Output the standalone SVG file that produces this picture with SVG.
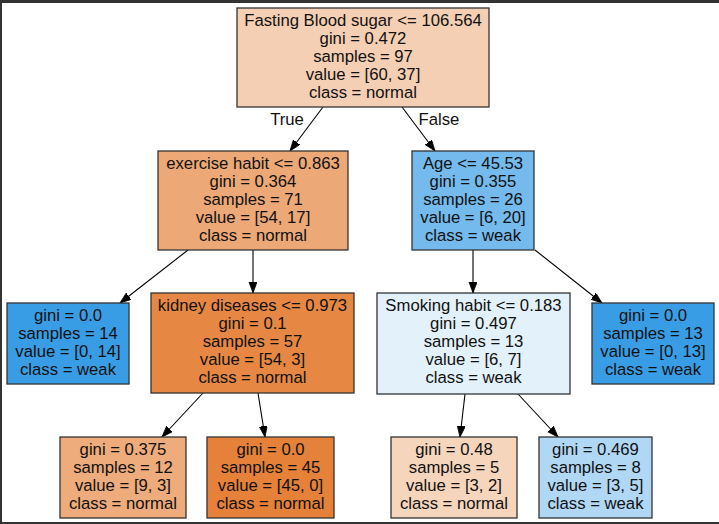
<svg xmlns="http://www.w3.org/2000/svg" width="719" height="524" viewBox="0 0 719 524">
<defs>
<marker id="arr" markerUnits="userSpaceOnUse" markerWidth="12" markerHeight="9" refX="11" refY="4" orient="auto">
<path d="M0,0 L11,4 L0,8 z" fill="#000" stroke="#000" stroke-width="0.8"/>
</marker>
</defs>
<style>
.n rect{stroke:#333;stroke-width:1.3}
text{font-family:"Liberation Sans",Arial,sans-serif;font-size:16.7px;fill:#111;text-anchor:middle}
.e line{stroke:#000;stroke-width:1.1;marker-end:url(#arr)}
</style>
<rect x="0" y="0" width="719" height="524" fill="#fff"/>
<rect x="0" y="0" width="719" height="3" fill="#333"/>
<rect x="0" y="0" width="2" height="524" fill="#333"/>
<rect x="0" y="522" width="719" height="2" fill="#333"/>
<g id="edges" class="e">
<line x1="323" y1="107" x2="290" y2="151"/>
<line x1="402" y1="107" x2="435" y2="151"/>
<line x1="188" y1="250" x2="120" y2="303"/>
<line x1="253" y1="250" x2="253" y2="293"/>
<line x1="473" y1="250" x2="473" y2="293"/>
<line x1="535" y1="250" x2="602" y2="303"/>
<line x1="203" y1="393" x2="162" y2="437"/>
<line x1="258" y1="393" x2="265" y2="437"/>
<line x1="465" y1="394" x2="460" y2="437"/>
<line x1="518" y1="394" x2="558" y2="437"/>
<text x="287" y="125">True</text>
<text x="439" y="125">False</text>
</g>
<g id="n0" class="n"><rect x="237" y="8" width="252" height="99" fill="#f5cfb3"/>
<text x="363" y="26">Fasting Blood sugar &lt;= 106.564</text><text x="363" y="44">gini = 0.472</text><text x="363" y="62">samples = 97</text><text x="363" y="80">value = [60, 37]</text><text x="363" y="98">class = normal</text></g>
<g id="n1" class="n"><rect x="158" y="151" width="190" height="99" fill="#eda877"/>
<text x="253" y="168.5">exercise habit &lt;= 0.863</text><text x="253" y="186.5">gini = 0.364</text><text x="253" y="204.5">samples = 71</text><text x="253" y="222.5">value = [54, 17]</text><text x="253" y="240.5">class = normal</text></g>
<g id="n2" class="n"><rect x="7" y="303" width="122" height="81" fill="#399de5"/>
<text x="68" y="320.5">gini = 0.0</text><text x="68" y="338.5">samples = 14</text><text x="68" y="356.5">value = [0, 14]</text><text x="68" y="374.5">class = weak</text></g>
<g id="n3" class="n"><rect x="151" y="293" width="203" height="100" fill="#e68844"/>
<text x="252.5" y="310.5">kidney diseases &lt;= 0.973</text><text x="252.5" y="328.5">gini = 0.1</text><text x="252.5" y="346.5">samples = 57</text><text x="252.5" y="364.5">value = [54, 3]</text><text x="252.5" y="382.5">class = normal</text></g>
<g id="n4" class="n"><rect x="60" y="437" width="126" height="81" fill="#eeab7b"/>
<text x="123" y="455">gini = 0.375</text><text x="123" y="473">samples = 12</text><text x="123" y="491">value = [9, 3]</text><text x="123" y="509">class = normal</text></g>
<g id="n5" class="n"><rect x="207" y="437" width="127" height="81" fill="#e58139"/>
<text x="270.5" y="455">gini = 0.0</text><text x="270.5" y="473">samples = 45</text><text x="270.5" y="491">value = [45, 0]</text><text x="270.5" y="509">class = normal</text></g>
<g id="n6" class="n"><rect x="412" y="151" width="122" height="99" fill="#74baed"/>
<text x="473" y="168.5">Age &lt;= 45.53</text><text x="473" y="186.5">gini = 0.355</text><text x="473" y="204.5">samples = 26</text><text x="473" y="222.5">value = [6, 20]</text><text x="473" y="240.5">class = weak</text></g>
<g id="n7" class="n"><rect x="377" y="293" width="193" height="101" fill="#e3f1fb"/>
<text x="473.5" y="310.5">Smoking habit &lt;= 0.183</text><text x="473.5" y="328.5">gini = 0.497</text><text x="473.5" y="346.5">samples = 13</text><text x="473.5" y="364.5">value = [6, 7]</text><text x="473.5" y="382.5">class = weak</text></g>
<g id="n8" class="n"><rect x="391" y="437" width="126" height="81" fill="#f6d5bd"/>
<text x="454" y="455">gini = 0.48</text><text x="454" y="473">samples = 5</text><text x="454" y="491">value = [3, 2]</text><text x="454" y="509">class = normal</text></g>
<g id="n9" class="n"><rect x="539" y="437" width="113" height="81" fill="#b0d8f5"/>
<text x="595.5" y="455">gini = 0.469</text><text x="595.5" y="473">samples = 8</text><text x="595.5" y="491">value = [3, 5]</text><text x="595.5" y="509">class = weak</text></g>
<g id="n10" class="n"><rect x="592" y="303" width="122" height="81" fill="#399de5"/>
<text x="653" y="320.5">gini = 0.0</text><text x="653" y="338.5">samples = 13</text><text x="653" y="356.5">value = [0, 13]</text><text x="653" y="374.5">class = weak</text></g>
</svg>
